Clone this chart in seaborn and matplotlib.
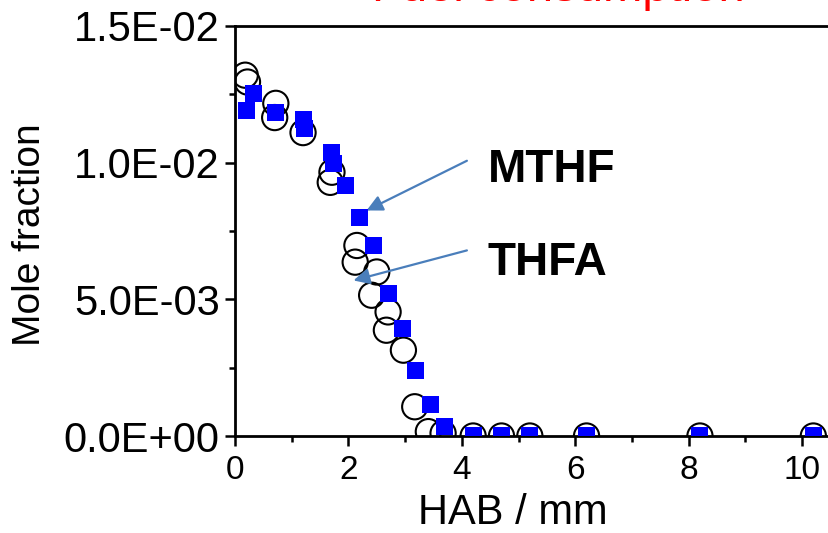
import matplotlib
matplotlib.use("Agg")
import matplotlib.pyplot as plt
from matplotlib.ticker import FuncFormatter, MultipleLocator
import pandas as pd
import seaborn as sns

# HAB (mm) and mole fraction
mthf_hab = [0.21, 0.32, 0.71, 1.2, 1.22, 1.71, 1.73, 1.95, 2.2, 2.45, 2.7, 2.96,
            3.19, 3.44, 3.7, 4.2, 4.7, 5.2, 6.2, 8.2, 10.2]
mthf_x = [11.92e-3, 12.54e-3, 11.82e-3, 11.57e-3, 11.25e-3, 10.36e-3, 9.96e-3, 9.16e-3,
          8.0e-3, 6.97e-3, 5.2e-3, 3.93e-3, 2.38e-3, 1.17e-3, 0.34e-3,
          0.0, 0.0, 0.0, 0.0, 0.0, 0.0]

thfa_hab = [0.18, 0.22, 0.72, 0.7, 1.2, 1.71, 1.68, 2.15, 2.12, 2.5, 2.41, 2.7, 2.67,
            2.97, 3.17, 3.41, 3.67, 4.2, 4.7, 5.2, 6.2, 8.2, 10.2]
thfa_x = [13.2e-3, 12.95e-3, 12.17e-3, 11.65e-3, 11.1e-3, 9.65e-3, 9.28e-3, 6.97e-3,
          6.36e-3, 6.0e-3, 5.15e-3, 4.54e-3, 3.87e-3, 3.14e-3, 1.07e-3, 0.16e-3,
          0.1e-3, 0.0, 0.0, 0.0, 0.0, 0.0, 0.0]

df_mthf = pd.DataFrame({"hab": mthf_hab, "x": mthf_x})
df_thfa = pd.DataFrame({"hab": thfa_hab, "x": thfa_x})

sns.set_style("ticks")
plt.rcParams["font.family"] = ["Liberation Sans", "DejaVu Sans"]
plt.rcParams["text.color"] = "black"
plt.rcParams["axes.labelcolor"] = "black"
plt.rcParams["xtick.color"] = "black"
plt.rcParams["ytick.color"] = "black"

fig = plt.figure(figsize=(8.29, 5.33), dpi=100)
ax = fig.add_axes([235 / 829, 97 / 533, 623.7 / 829, 410 / 533])

# open circles = THFA, blue squares = MTHF (drawn on top)
sns.scatterplot(data=df_thfa, x="hab", y="x", ax=ax, marker="o", s=330,
                facecolors="none", edgecolor="black", linewidth=1.5, zorder=3)
sns.scatterplot(data=df_mthf, x="hab", y="x", ax=ax, marker="s", s=150,
                color="#0000ff", edgecolor="none", linewidth=0, zorder=4)

ax.set_xlim(0, 11)
ax.set_ylim(0, 0.015)
ax.xaxis.set_major_locator(MultipleLocator(2))
ax.xaxis.set_minor_locator(MultipleLocator(1))
ax.yaxis.set_major_locator(MultipleLocator(0.005))
ax.yaxis.set_minor_locator(MultipleLocator(0.0025))
ax.yaxis.set_major_formatter(FuncFormatter(lambda v, p: f"{v:.1E}"))

for s in ax.spines.values():
    s.set_linewidth(2)
    s.set_color("black")
ax.tick_params(which="both", direction="out", width=1.8, color="black",
               labelcolor="black", top=False, right=False)
ax.tick_params(which="major", length=7)
ax.tick_params(which="minor", length=4.5)
ax.tick_params(axis="y", labelsize=30, pad=4)
ax.tick_params(axis="x", labelsize=24, pad=7)

ax.set_xlabel("HAB / mm", fontsize=30, va="baseline", color="black")
ax.xaxis.set_label_coords(0.446, -0.214)
ax.set_ylabel("Mole fraction", fontsize=28, va="center", color="black")
ax.yaxis.set_label_coords(-0.328, 0.49)

arrow = dict(arrowstyle="-|>", color="#4a7ebb", lw=1.6, mutation_scale=24,
             shrinkA=0, shrinkB=0)
ax.annotate("", xy=(2.32, 8.25e-3), xytext=(4.09, 10.07e-3), arrowprops=arrow)
ax.annotate("", xy=(2.09, 5.69e-3), xytext=(4.09, 6.79e-3), arrowprops=arrow)
ax.text(4.46, 9.28e-3, "MTHF", fontsize=33, fontweight="bold", va="baseline",
        color="black")
ax.text(4.46, 5.88e-3, "THFA", fontsize=33, fontweight="bold", va="baseline",
        color="black")

# title sits mostly above the cropped top edge, as in the original
fig.text(558 / 829, 1 - 1 / 533, "Fuel consumption", color="red", fontsize=34,
         ha="center", va="baseline")

fig.savefig("out.png", dpi=100)
